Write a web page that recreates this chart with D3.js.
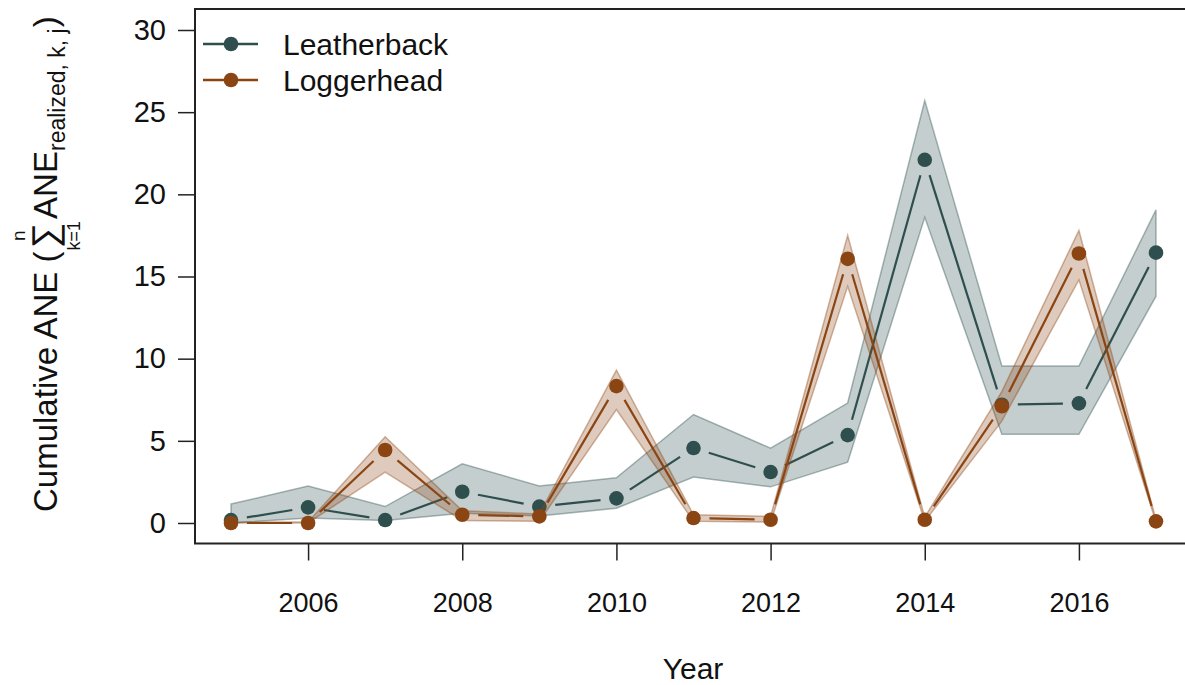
<!DOCTYPE html>
<html>
<head>
<meta charset="utf-8">
<script src="https://cdn.jsdelivr.net/npm/d3@7"></script>
<style>
  html, body { margin: 0; padding: 0; background: #ffffff; }
  svg { display: block; }
  text { font-family: "Liberation Sans", Arial, sans-serif; fill: #111; }
</style>
</head>
<body>
<svg id="chart" width="1185" height="685"></svg>
<script>
// ---- data ----
const years = [2005, 2006, 2007, 2008, 2009, 2010, 2011, 2012, 2013, 2014, 2015, 2016, 2017];

const leatherbackMean  = [0.18, 0.95, 0.18, 1.9, 1.0, 1.5, 4.56, 3.1, 5.35, 22.1, 7.2, 7.28, 16.45];
const leatherbackUpper = [1.15, 2.25, 1.0, 3.6, 2.25, 2.75, 6.6, 4.55, 7.3, 25.7, 9.55, 9.55, 19.05];
const leatherbackLower = [0.0, 0.3, 0.15, 0.6, 0.43, 0.9, 2.8, 2.2, 3.7, 18.6, 5.4, 5.4, 13.8];

const loggerheadMean  = [0.0, 0.0, 4.44, 0.5, 0.4, 8.33, 0.3, 0.2, 16.07, 0.2, 7.1, 16.4, 0.1];
const loggerheadUpper = [0.06, 0.06, 5.25, 0.75, 0.55, 9.3, 0.5, 0.4, 17.5, 0.35, 8.0, 17.8, 0.2];
const loggerheadLower = [0.0, 0.0, 3.1, 0.15, 0.1, 6.9, 0.1, 0.05, 14.4, 0.1, 6.2, 14.8, 0.05];

const seriesNames = ["Leatherback", "Loggerhead"];
const seriesColors = ["#2F4F4F", "#8B4513"];

const xTicks = [2006, 2008, 2010, 2012, 2014, 2016];
const yTicks = [0, 5, 10, 15, 20, 25, 30];

// ---- layout ----
const svg = d3.select("#chart");
const box = { left: 195, top: 9, right: 1193, bottom: 543.5 };

const x = d3.scaleLinear().domain([2005, 2017]).range([231, 1156]);
const y = d3.scaleLinear().domain([0, 30]).range([523, 30]);

// ---- bands, lines, points ----
const series = [
  { name: seriesNames[0], color: seriesColors[0], mean: leatherbackMean, lo: leatherbackLower, hi: leatherbackUpper },
  { name: seriesNames[1], color: seriesColors[1], mean: loggerheadMean, lo: loggerheadLower, hi: loggerheadUpper }
];

const area = d3.area()
  .x((d, i) => x(years[i]))
  .y0(d => y(d.lo))
  .y1(d => y(d.hi));

const GAP = 16; // gap around each point for type="b" lines
const R = 7.3;

series.forEach(s => {
  const rows = years.map((yr, i) => ({ yr, lo: s.lo[i], hi: s.hi[i], m: s.mean[i] }));
  svg.append("path")
    .datum(rows)
    .attr("d", area)
    .attr("fill", s.color)
    .attr("fill-opacity", 0.28)
    .attr("stroke", s.color)
    .attr("stroke-opacity", 0.4)
    .attr("stroke-width", 1.5)
    .attr("stroke-linejoin", "miter");

  // broken line segments between points
  const segs = [];
  for (let i = 0; i < rows.length - 1; i++) {
    const x1 = x(rows[i].yr), y1 = y(rows[i].m);
    const x2 = x(rows[i + 1].yr), y2 = y(rows[i + 1].m);
    const len = Math.hypot(x2 - x1, y2 - y1);
    if (len > 2 * GAP + 2) {
      const ux = (x2 - x1) / len, uy = (y2 - y1) / len;
      segs.push([x1 + ux * GAP, y1 + uy * GAP, x2 - ux * GAP, y2 - uy * GAP]);
    }
  }
  svg.append("g").selectAll("line").data(segs).join("line")
    .attr("x1", d => d[0]).attr("y1", d => d[1])
    .attr("x2", d => d[2]).attr("y2", d => d[3])
    .attr("stroke", s.color).attr("stroke-width", 2.2);

  svg.append("g").selectAll("circle").data(rows).join("circle")
    .attr("cx", d => x(d.yr)).attr("cy", d => y(d.m))
    .attr("r", R).attr("fill", s.color);
});

// ---- plot box (left, top, bottom; right edge lies outside the view) ----
svg.append("path")
  .attr("d", `M${box.right},${box.top}H${box.left}V${box.bottom}H${box.right}`)
  .attr("fill", "none").attr("stroke", "#222").attr("stroke-width", 2);

// ---- axes ----
const yAxis = d3.axisLeft(y).tickValues(yTicks).tickSize(17).tickPadding(12).tickFormat(d3.format("d"));
const gy = svg.append("g").attr("transform", `translate(${box.left},0)`).call(yAxis);
gy.select(".domain").remove();
gy.selectAll(".tick line").attr("stroke", "#222").attr("stroke-width", 1.5);
gy.selectAll(".tick text").style("font-size", "29px").attr("fill", "#111");

const xAxis = d3.axisBottom(x).tickValues(xTicks).tickSize(17).tickFormat(d3.format("d")).tickPadding(32);
const gx = svg.append("g").attr("transform", `translate(0,${box.bottom})`).call(xAxis);
gx.select(".domain").remove();
gx.selectAll(".tick line").attr("stroke", "#222").attr("stroke-width", 1.5);
gx.selectAll(".tick text").style("font-size", "27px").attr("fill", "#111");

// x title
svg.append("text").attr("x", 693).attr("y", 679).attr("text-anchor", "middle")
  .style("font-size", "30px").text("Year");

// ---- y title with math ----
const yt = svg.append("g").attr("transform", "translate(57,512) rotate(-90)");
function piece(str, size, dy) {
  return yt.append("text").style("font-size", size + "px").attr("y", dy || 0).text(str);
}
let cursor = 0;
const pA = piece("Cumulative ANE (", 33, 0);
pA.attr("x", cursor); cursor += pA.node().getComputedTextLength() + 3;
const pSum = piece("\u2211", 36, 0);
const wSum = pSum.node().getComputedTextLength();
pSum.attr("x", cursor);
const sumC = cursor + wSum / 2;
piece("n", 19, -32).attr("x", sumC).attr("text-anchor", "middle");
piece("k=1", 18, 23).attr("x", sumC).attr("text-anchor", "middle");
cursor += wSum + 4;
const pB = piece("ANE", 33, 0);
pB.attr("x", cursor); cursor += pB.node().getComputedTextLength();
const pSub = piece("realized, k, j", 23, 8);
pSub.attr("x", cursor); cursor += pSub.node().getComputedTextLength() + 1;
const pC = piece(")", 33, 0);
pC.attr("x", cursor);

// ---- legend ----
const legend = svg.append("g");
series.forEach((s, i) => {
  const ly = 44 + i * 36;
  legend.append("line").attr("x1", 203).attr("x2", 258).attr("y1", ly).attr("y2", ly)
    .attr("stroke", s.color).attr("stroke-width", 2.5);
  legend.append("circle").attr("cx", 231).attr("cy", ly).attr("r", R).attr("fill", s.color);
  legend.append("text").attr("x", 283).attr("y", ly + 11).style("font-size", "30px").text(s.name);
});
</script>
</body>
</html>
